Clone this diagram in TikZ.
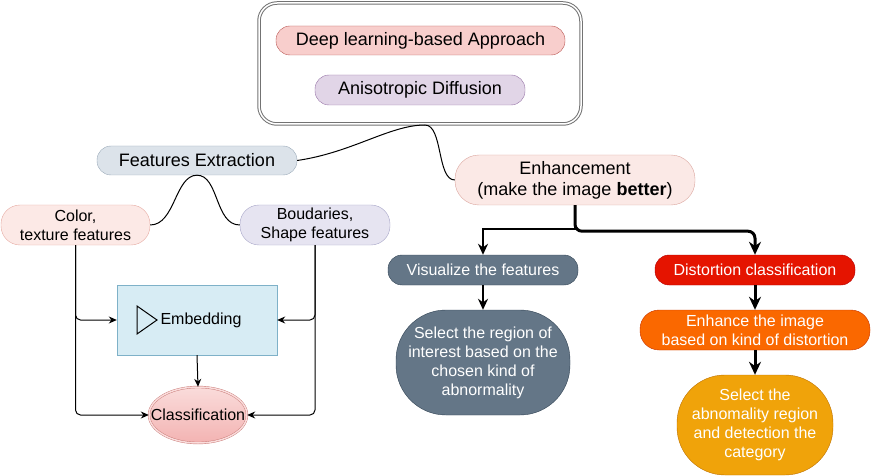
\documentclass[tikz,border=0pt]{standalone}
\usepackage{fontspec}
\setmainfont{Liberation Sans}
\usetikzlibrary{arrows.meta,shapes.geometric}

\definecolor{deepfill}{HTML}{F8CECC}
\definecolor{deepline}{HTML}{B85450}
\definecolor{anisofill}{HTML}{E1D5E7}
\definecolor{anisoline}{HTML}{9673A6}
\definecolor{featfill}{HTML}{DCE3EA}
\definecolor{featline}{HTML}{9AA9B8}
\definecolor{colfill}{HTML}{FCE9E6}
\definecolor{colline}{HTML}{E6ABA3}
\definecolor{bndfill}{HTML}{E6E4F1}
\definecolor{bndline}{HTML}{A8A6C8}
\definecolor{embfill}{HTML}{D7ECF4}
\definecolor{embline}{HTML}{7EB1C8}
\definecolor{clstop}{HTML}{FADCDB}
\definecolor{clsbot}{HTML}{F3B3B2}
\definecolor{enhfill}{HTML}{FBE9E6}
\definecolor{enhline}{HTML}{DBA59E}
\definecolor{visfill}{HTML}{647687}
\definecolor{visline}{HTML}{314354}
\definecolor{disfill}{HTML}{E51400}
\definecolor{disline}{HTML}{B20000}
\definecolor{imgfill}{HTML}{FA6800}
\definecolor{imgline}{HTML}{C73500}
\definecolor{abnfill}{HTML}{F0A30A}
\definecolor{abnline}{HTML}{BD7000}

\tikzset{
  pill/.style={draw, rounded corners=#1, align=center, inner sep=0pt},
  big/.style={font=\fontsize{18}{21}\selectfont},
  small/.style={font=\fontsize{16}{19}\selectfont},
  arr/.style={-{Stealth[length=8pt,width=7pt]}, line width=1pt, rounded corners=5pt},
  midarr/.style={-{Stealth[length=11pt,width=10pt]}, line width=2pt},
  fatarr/.style={-{Stealth[length=13pt,width=12pt]}, line width=3pt},
  link/.style={line width=1pt}
}

\begin{document}
\begin{tikzpicture}[x=1pt,y=-1pt]
\useasboundingbox (0,0) rectangle (871,476);

% top group
\node[draw=black!55, double=white, double distance=1.5pt, line width=1pt, rounded corners=18pt,
  minimum width=322, minimum height=121, inner sep=0pt] (topbox) at (420,63.5) {};
\node[pill=14pt, big, fill=deepfill, draw=deepline, minimum width=289, minimum height=29] (deep) at (420.5,40.5) {Deep learning-based Approach};
\node[pill=14pt, big, fill=anisofill, draw=anisoline, minimum width=210, minimum height=30] (aniso) at (420,90) {Anisotropic Diffusion};
\coordinate (join) at (425,125);

% left branch
\node[pill=14pt, big, fill=featfill, draw=featline, minimum width=200, minimum height=29] (featx) at (197,160.5) {Features Extraction};
\node[pill=19pt, small, fill=colfill, draw=colline, minimum width=149, minimum height=40] (colorf) at (75.5,225) {Color,\\texture features};
\node[pill=19pt, small, fill=bndfill, draw=bndline, minimum width=150, minimum height=40] (boundf) at (315,225) {Boudaries,\\Shape features};
\node[draw=embline, fill=embfill, minimum width=160, minimum height=70, inner sep=0pt] (embed) at (197,320) {};
\draw[line width=1pt] (137,306) -- (157,320) -- (137,334) -- cycle;
\node[small, inner sep=0pt] (embtxt) at (201,320) {Embedding};
\node[ellipse, top color=clstop, bottom color=clsbot, draw=deepline!80, double=clstop,
  double distance=1.5pt, minimum width=98, minimum height=56, inner sep=0pt] (classif) at (198,415) {};
\node[small, inner sep=0pt] (clstxt) at (classif) {Classification};

% right branch
\node[pill=24pt, big, fill=enhfill, draw=enhline, minimum width=240, minimum height=50] (enhance) at (575,180) {Enhancement\\(make the image \textbf{better})};
\node[pill=14pt, small, fill=visfill, draw=visline, text=white, minimum width=190, minimum height=30] (visual) at (483,270) {Visualize the features};
\node[pill=14pt, small, fill=disfill, draw=disline, text=white, minimum width=200, minimum height=30] (distort) at (755,270) {Distortion classification};
\node[pill=50pt, small, fill=visfill, draw=visline, text=white, minimum width=174, minimum height=105] (select) at (483,362.5) {Select the region of\\interest based on the\\chosen kind of\\abnormality};
\node[pill=19pt, small, fill=imgfill, draw=imgline, text=white, minimum width=230, minimum height=40] (enhimg) at (755,330) {Enhance the image\\based on kind of distortion};
\node[pill=48pt, small, fill=abnfill, draw=abnline, text=white, minimum width=156, minimum height=100] (abnorm) at (755,425) {Select the\\abnomality region\\and detection the\\category};

% curved links
\draw[link] (featx.east) .. controls +(55,-8) and +(-35,0) .. (join);
\draw[link] (join) .. controls +(18,0) and +(-18,0) .. (enhance.west);
\draw[link] (featx.south) .. controls +(-22,0) and +(25,0) .. (colorf.east);
\draw[link] (featx.south) .. controls +(22,0) and +(-25,0) .. (boundf.west);

% arrows of the left panel
\draw[arr] (colorf.south) |- (embed.west);
\draw[arr] (colorf.south) |- (classif.west);
\draw[arr] (boundf.south) |- (embed.east);
\draw[arr] (boundf.south) |- (classif.east);
\draw[arr] (embed.south) -- (classif.north);

% arrows of the right panel
\draw[midarr] (enhance.south) -- ++(0,24) -| (visual.north);
\draw[fatarr, rounded corners=7pt] (enhance.south) -- ++(0,26) -| (distort.north);
\draw[midarr] (visual.south) -- (select.north);
\draw[fatarr] (distort.south) -- (enhimg.north);
\draw[fatarr] (enhimg.south) -- (abnorm.north);

\end{tikzpicture}
\end{document}
